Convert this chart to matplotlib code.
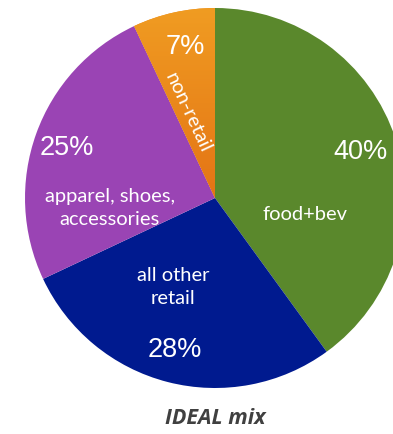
import numpy as np
import matplotlib
matplotlib.use("Agg")
import matplotlib.pyplot as plt

# Daten
kategorien = ["food+bev", "all other\nretail", "apparel, shoes,\naccessories", "non-retail"]
anteile = [40, 28, 25, 7]
farben = ["#5A882C", "#001A8F", "#9A44B4", "#EC8B1E"]

W, H = 393, 434
fig = plt.figure(figsize=(W / 100, H / 100), dpi=100)
ax = fig.add_axes([0, 0, 1, 1])

# Pixelkoordinaten, y nach oben
cx, cy, r = 215, H - 198, 190
wedges, _ = ax.pie(anteile, colors=farben, startangle=90, counterclock=False,
                   center=(cx, cy), radius=r, frame=True,
                   wedgeprops=dict(linewidth=0))

# Verlauf im orangen Segment
grad = np.linspace(0, 1, 256).reshape(-1, 1)
cmap = matplotlib.colors.LinearSegmentedColormap.from_list("o", ["#F09C22", "#E47415"])
im = ax.imshow(grad, cmap=cmap, extent=(cx - r, cx + r, cy - 0, cy + r), origin="upper",
               aspect="auto", zorder=wedges[3].get_zorder() + 0.1)
im.set_clip_path(wedges[3])

ax.set_xlim(0, W)
ax.set_ylim(0, H)
ax.set_aspect("auto")
ax.axis("off")

pct_font = dict(color="white", fontsize=19.5, family="Liberation Sans", ha="center", va="center")
lab_font = dict(color="white", fontsize=14.5, family=["Lato", "DejaVu Sans"], ha="center", va="center")

def y(py):
    return H - py

ax.text(360, y(152), f"{anteile[0]}%", **pct_font)
ax.text(305, y(215), kategorien[0], **lab_font)
ax.text(175, y(350), f"{anteile[1]}%", **pct_font)
ax.text(173, y(287), kategorien[1], linespacing=1.45, **lab_font)
ax.text(67, y(148), f"{anteile[2]}%", **pct_font)
ax.text(110, y(208), kategorien[2], linespacing=1.45, **lab_font)
ax.text(185, y(47), f"{anteile[3]}%", **pct_font)
ax.text(188, y(113), kategorien[3], rotation=-65, rotation_mode="anchor", **lab_font)

ax.text(215, y(419), "IDEAL mix", color="#404040", fontsize=15.5, fontweight="bold",
        fontstyle="italic", family=["Open Sans", "DejaVu Sans"], ha="center", va="center")

fig.savefig("out.png", dpi=100)
